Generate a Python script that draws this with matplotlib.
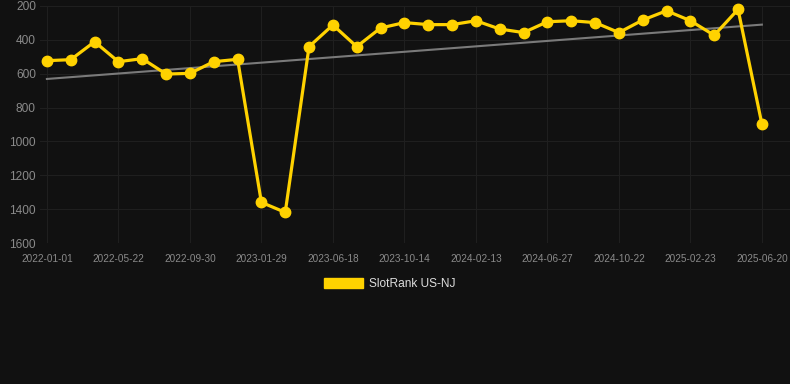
import matplotlib
matplotlib.use("Agg")
import matplotlib.pyplot as plt
from matplotlib.patches import Patch

# slot rank per sample (lower is better, axis is inverted)
ranks = [523, 517, 411, 529, 511, 602, 598, 529, 515, 1360,
         1419, 440, 312, 440, 330, 298, 310, 310, 287, 336,
         357, 293, 287, 298, 357, 283, 228, 287, 373, 220, 897]
tick_labels = ["2022-01-01", "2022-05-22", "2022-09-30", "2023-01-29",
               "2023-06-18", "2023-10-14", "2024-02-13", "2024-06-27",
               "2024-10-22", "2025-02-23", "2025-06-20"]
trend_start = 631
trend_end = 310
series_name = "SlotRank US-NJ"

bg = "#111111"
gold = "#FFD200"

plt.rcParams['font.family'] = ['Liberation Sans', 'DejaVu Sans']

fig = plt.figure(figsize=(7.9, 3.84), dpi=100, facecolor=bg)
ax = fig.add_axes([40/790, 1 - 243/384, 750/790, 237/384])
ax.set_facecolor(bg)

x = list(range(len(ranks)))
ax.plot([x[0], x[-1]], [trend_start, trend_end], color="#7a7a7a", lw=1.5, zorder=2)
ax.plot(x, ranks, color=gold, lw=2.3, marker="o", markersize=7.5, zorder=3, clip_on=False)

ax.set_ylim(1600, 200)
ax.set_yticks(range(200, 1601, 200))
ax.set_xlim(-0.29, 31.18)
ax.set_xticks(x[::3])
ax.set_xticklabels(tick_labels)

ax.grid(True, color="#1f1f1f", lw=0.8)
for s in ax.spines.values():
    s.set_visible(False)
ax.tick_params(axis="both", length=0, colors="#8a8a8a")
ax.tick_params(axis="y", labelsize=8.6, pad=3)
ax.tick_params(axis="x", labelsize=7.2, pad=8)

handle = Patch(facecolor=gold, edgecolor=gold)
fig.legend([handle], [series_name], loc="center", bbox_to_anchor=(390/790, 1 - 284/384),
           frameon=False, fontsize=8.6, labelcolor="#dddddd",
           handlelength=3.3, handleheight=0.9, handletextpad=0.5)

fig.savefig("out.png", dpi=100, facecolor=bg)
